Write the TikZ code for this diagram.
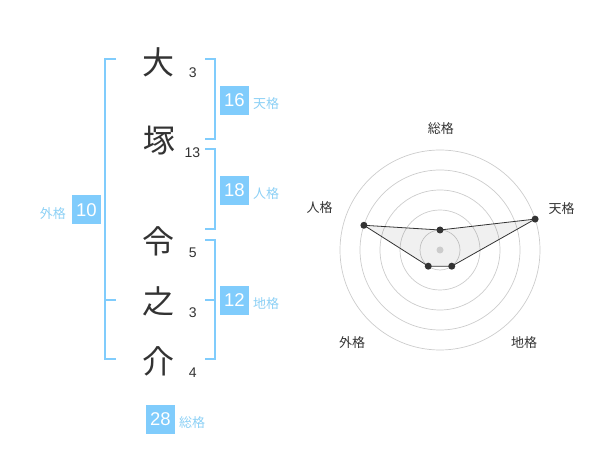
\documentclass[tikz,border=0pt]{standalone}
\usepackage{fontspec}
\setmainfont{Liberation Sans}
\newfontfamily\jpfont{Noto Sans CJK JP}
\usetikzlibrary{positioning}
\definecolor{kakublue}{RGB}{128,204,252}
\definecolor{kakutext}{RGB}{140,208,245}
\definecolor{inkgray}{RGB}{51,51,51}
\definecolor{ringgray}{RGB}{204,204,204}

\begin{document}
\begin{tikzpicture}[x=1pt, y=-1pt,
      kanji/.style={inner sep=0pt, text=inkgray,
      font=\jpfont\fontsize{32pt}{32pt}\selectfont},
      strokes/.style={inner sep=0pt, text=inkgray,
      font=\fontsize{14pt}{14pt}\selectfont},
      kakubox/.style={fill=kakublue, text=white, minimum size=29pt,
      inner sep=0pt, font=\fontsize{18.5pt}{18.5pt}\selectfont},
      kakulabel/.style={inner sep=0pt, text=kakutext,
      font=\jpfont\fontsize{13pt}{13pt}\selectfont},
      bracket/.style={draw=kakublue, line width=2pt},
      ring/.style={draw=ringgray, line width=0.7pt},
      axislabel/.style={inner sep=0pt, text=inkgray,
      font=\jpfont\fontsize{13pt}{13pt}\selectfont},
      dot/.style={circle, fill=inkgray, inner sep=0pt, minimum size=7pt} ]

    \useasboundingbox (0,0) rectangle (600,470);

    % Name characters
    \node[kanji] (dai) at (158,62) {大}; \node[kanji] (tsuka) at (159,141)
    {塚}; \node[kanji] (rei) at (158,241) {令}; \node[kanji] (no) at (158,301)
    {之}; \node[kanji] (suke) at (158,361) {介};

    % Stroke counts
    \node[strokes] (sdai) at (192.7,72.5) {3}; \node[strokes] (stsuka) at
    (192.5,153) {13}; \node[strokes] (srei) at (192.7,253) {5};
    \node[strokes] (sno) at (192.7,313) {3}; \node[strokes] (ssuke) at
    (192.7,373) {4};

    % Brackets
    \draw[bracket] (116,59.3) -- (105,59.3) -- (105,359.3) -- (116,359.3);
    \draw[bracket] (105,300) -- (116,300);
    \draw[bracket] (205,59.3) -- (215,59.3) -- (215,139.3) -- (205,139.3);
    \draw[bracket] (205,149.3) -- (215,149.3) -- (215,229.3) -- (205,229.3);
    \draw[bracket] (205,240) -- (215,240) -- (215,359.3) -- (205,359.3);
    \draw[bracket] (205,300) -- (215,300);

    % Fortune boxes
    \node[kakubox] (gai) at (86.5,210) {10}; \node[kakulabel] (gailabel) at
    (52.8,214) {外格};
    \node[kakubox] (ten) at (234.5,100.3) {16}; \node[kakulabel] (tenlabel)
    at (266,104) {天格};
    \node[kakubox] (jin) at (234.5,190.3) {18}; \node[kakulabel] (jinlabel)
    at (266,194) {人格};
    \node[kakubox] (chi) at (234.5,300.3) {12}; \node[kakulabel] (chilabel)
    at (266,304) {地格};
    \node[kakubox] (so) at (160.3,419.3) {28}; \node[kakulabel] (solabel) at
    (192,423) {総格};

    % Radar chart
    \begin{scope}[shift={(440,250)}, yscale=-1]
      \foreach \r in {20,40,...,100} \draw[ring] (0,0) circle[radius=\r];
      \coordinate (vso) at (90:20); \coordinate (vten) at (18:100);
      \coordinate (vchi) at (-54:20); \coordinate (vgai) at (-126:20);
      \coordinate (vjin) at (162:80);
      \draw[draw=inkgray, line width=0.8pt, fill=black, fill opacity=0.06]
      (vso) -- (vten) -- (vchi) -- (vgai) -- (vjin) -- cycle;
      \node[circle, fill=ringgray, inner sep=0pt, minimum size=7pt] (hub) at
      (0,0) {};
      \foreach \v in {vso,vten,vchi,vgai,vjin} \node[dot] at (\v) {};
    \end{scope}

    % Axis labels
    \node[axislabel] (axso) at (440.8,129) {総格}; \node[axislabel] (axten) at
    (561.7,208.3) {天格}; \node[axislabel] (axjin) at (319.5,208) {人格};
    \node[axislabel] (axgai) at (352,342.5) {外格}; \node[axislabel] (axchi)
    at (524,342.5) {地格};

    \end{tikzpicture}
\end{document}
